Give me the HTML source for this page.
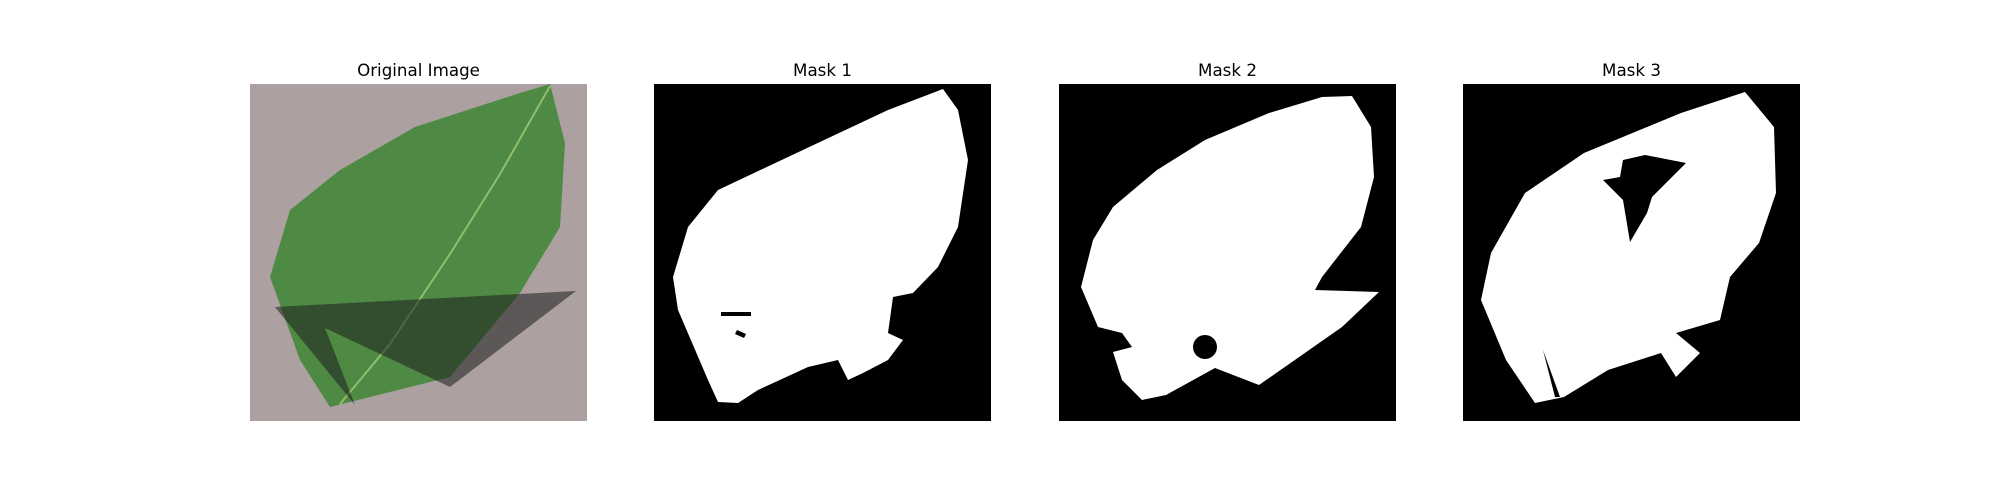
<!DOCTYPE html>
<html><head><meta charset="utf-8"><style>
html,body{margin:0;padding:0;background:#fff;}
svg{display:block;}
text{font-family:"DejaVu Sans","Liberation Sans",sans-serif;font-size:16.7px;fill:#000;}
</style></head><body>
<svg width="2000" height="500" viewBox="0 0 2000 500">
<g transform="translate(250,84)">
  <text x="168.5" y="-8" text-anchor="middle">Original Image</text>
  <rect width="337" height="337" fill="#aca0a1"/>
  <polygon fill="#4f8a45" points="300,0 315,59 310,143 270,209 200,293 80,323 50,276 20,193 40,126 90,86 165,43 270,9"/>
  <polyline fill="none" stroke="#8fbf6a" stroke-width="2" points="300,2 250,90 200,170 140,260 90,320"/>
  <polygon fill="rgba(30,30,30,0.55)" points="25,223 326,207 200,303 75,244 105,321"/>
</g>
<g transform="translate(654,84)">
  <text x="168.5" y="-8" text-anchor="middle">Mask 1</text>
  <rect width="337" height="337" fill="#000"/>
  <polygon fill="#fff" points="289,5 304,26 314,76 304,143 284,183 259,209 239,213 234,249 249,256 234,276 209,289 194,296 184,276 154,283 104,306 84,319 64,318 54,296 24,226 19,193 34,143 64,106 134,73 234,26"/>
  <rect x="67" y="228" width="30" height="4" fill="#000"/>
  <polygon fill="#000" points="83,246 92,250 90,254 81,250"/>
</g>
<g transform="translate(1059,84)">
  <text x="168.5" y="-8" text-anchor="middle">Mask 2</text>
  <rect width="337" height="337" fill="#000"/>
  <polygon fill="#fff" points="293,12 312,43 315,93 302,143 263,193 256,206 320,208 283,243 200,301 156,284 107,311 83,316 63,296 54,268 73,263 63,249 39,243 22,203 34,156 54,123 98,86 146,56 210,29 263,13"/>
  <circle cx="146" cy="263" r="12" fill="#000"/>
</g>
<g transform="translate(1463,84)">
  <text x="168.5" y="-8" text-anchor="middle">Mask 3</text>
  <rect width="337" height="337" fill="#000"/>
  <polygon fill="#fff" points="282,8 311,43 313,109 296,159 267,193 257,236 213,249 237,269 213,293 198,269 145,286 101,313 72,319 43,276 18,216 28,169 62,109 121,69 218,29"/>
  <polygon fill="#000" points="160,76 182,71 223,79 189,113 184,129 167,158 160,116 140,96 157,93"/>
  <polygon fill="#000" points="80,266 97,313 92,313"/>
</g>
</svg>
</body></html>
